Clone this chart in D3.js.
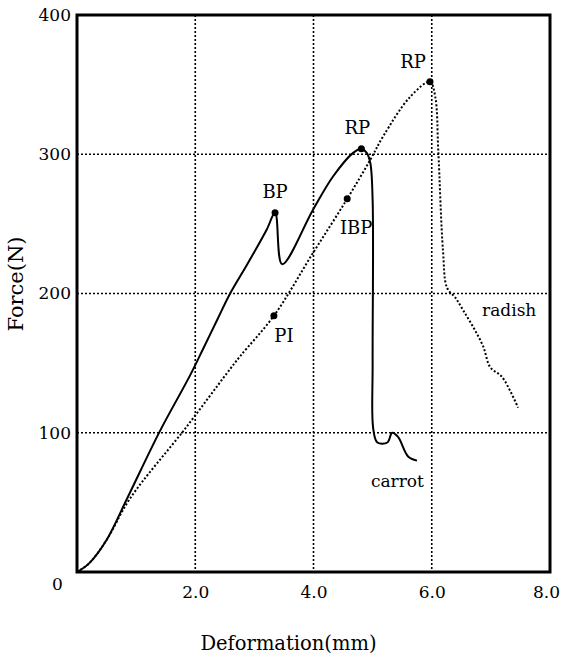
<!DOCTYPE html>
<html>
<head>
<meta charset="utf-8">
<script src="https://cdn.jsdelivr.net/npm/d3@7"></script>
<style>
  body { margin: 0; background: #fff; }
  text { font-family: "DejaVu Serif", "Liberation Serif", serif; fill: #000; }
</style>
</head>
<body>
<div id="chart"></div>
<script>
// carrot curve (solid), deformation mm / force N
var carrotX = [0, 0.2, 0.5, 0.85, 1.40, 1.91, 2.13, 2.37, 2.59, 2.88, 3.21, 3.35, 3.47, 3.99, 4.33, 4.67, 4.81, 4.9, 4.96, 5.0, 5.0, 5.01, 5.08, 5.25, 5.33, 5.43, 5.6, 5.75];
var carrotY = [0, 6, 23, 53, 101, 141, 160, 181, 200, 221, 246, 258, 221, 260, 284, 301, 304, 301, 294, 267, 150, 103, 93, 93, 100, 97, 83, 80];

// radish curve (dotted)
var radishX = [0, 0.2, 0.5, 0.9, 1.83, 2.54, 2.76, 3.33, 3.99, 4.57, 4.96, 5.18, 5.63, 5.97, 6.06, 6.11, 6.19, 6.26, 6.4, 6.53, 6.7, 6.87, 6.99, 7.19, 7.46];
var radishY = [0, 6, 23, 53, 103, 143, 155, 184, 229, 268, 296, 313, 341, 352, 341, 303, 231, 204, 197, 188, 176, 162, 147, 140, 118];

// marked points
var pointNames = ["BP", "RP", "PI", "IBP", "RP"];
var pointX = [3.35, 4.81, 3.33, 4.57, 5.97];
var pointY = [258, 304, 184, 268, 352];

var xTicks = [0, 2, 4, 6, 8];
var xTickLabels = ["0", "2.0", "4.0", "6.0", "8.0"];
var yTicks = [0, 100, 200, 300, 400];

var margin = {top: 15, right: 11, bottom: 91, left: 77},
    width = 561 - margin.left - margin.right,
    height = 663 - margin.top - margin.bottom;

var svg = d3.select("#chart")
    .append("svg")
    .attr("width", 561)
    .attr("height", 663)
    .append("g")
    .attr("transform", "translate(" + margin.left + "," + margin.top + ")");

var x = d3.scaleLinear().domain([0, 8]).range([0, width]);
var y = d3.scaleLinear().domain([0, 400]).range([height, 0]);

// grid
svg.append("g")
    .attr("class", "grid")
    .selectAll("line")
    .data(xTicks.slice(1, -1))
    .enter().append("line")
    .attr("x1", d => x(d)).attr("x2", d => x(d))
    .attr("y1", 0).attr("y2", height)
    .style("stroke", "#000").style("stroke-width", 1.6).style("stroke-dasharray", "2,2");

svg.append("g")
    .attr("class", "grid")
    .selectAll("line")
    .data(yTicks.slice(1, -1))
    .enter().append("line")
    .attr("x1", 0).attr("x2", width)
    .attr("y1", d => y(d)).attr("y2", d => y(d))
    .style("stroke", "#000").style("stroke-width", 1.6).style("stroke-dasharray", "2,2");

// frame
svg.append("rect")
    .attr("width", width)
    .attr("height", height)
    .style("fill", "none")
    .style("stroke", "#000")
    .style("stroke-width", 3);

// tick labels
var xAxis = svg.append("g")
    .attr("transform", "translate(0," + height + ")")
    .call(d3.axisBottom(x).tickValues(xTicks).tickSize(0).tickPadding(14)
        .tickFormat((d, i) => xTickLabels[i]));
xAxis.select(".domain").remove();
xAxis.selectAll("text").style("font-size", "17px").attr("font-family", null);
xAxis.selectAll(".tick").filter(d => d === 0).select("text").attr("dx", "-20").attr("y", 6);
xAxis.selectAll(".tick").filter(d => d === 8).select("text").attr("dx", "-4");

var yAxis = svg.append("g")
    .call(d3.axisLeft(y).tickValues(yTicks.slice(1)).tickSize(0).tickPadding(6));
yAxis.select(".domain").remove();
yAxis.selectAll("text").style("font-size", "17px").attr("font-family", null);

// axis titles
svg.append("text")
    .attr("x", width / 2 - 25)
    .attr("y", height + 78)
    .style("text-anchor", "middle")
    .style("font-size", "19.5px")
    .text("Deformation(mm)");

svg.append("text")
    .attr("transform", "rotate(-90)")
    .attr("x", -(284 - margin.top))
    .attr("y", -margin.left + 23)
    .style("text-anchor", "middle")
    .style("font-size", "21px")
    .text("Force(N)");

var line = d3.line()
    .x(d => x(d[0]))
    .y(d => y(d[1]))
    .curve(d3.curveCatmullRom.alpha(0.5));

svg.append("path")
    .datum(carrotX.map((v, i) => [v, carrotY[i]]))
    .attr("d", line)
    .style("fill", "none")
    .style("stroke", "#000")
    .style("stroke-width", 2);

svg.append("path")
    .datum(radishX.map((v, i) => [v, radishY[i]]))
    .attr("d", line)
    .style("fill", "none")
    .style("stroke", "#000")
    .style("stroke-width", 2)
    .style("stroke-dasharray", "2,2");

svg.selectAll(".pt")
    .data(pointX)
    .enter().append("circle")
    .attr("class", "pt")
    .attr("cx", d => x(d))
    .attr("cy", (d, i) => y(pointY[i]))
    .attr("r", 3.5)
    .style("fill", "#000");

// labels next to the marked points
var labelDx = [0, -4, 10, 9, -17];
var labelDy = [-15, -15, 26, 35, -14];
svg.selectAll(".plabel")
    .data(pointNames)
    .enter().append("text")
    .attr("class", "plabel")
    .attr("x", (d, i) => x(pointX[i]) + labelDx[i])
    .attr("y", (d, i) => y(pointY[i]) + labelDy[i])
    .style("text-anchor", "middle")
    .style("font-size", "18px")
    .text(d => d);

svg.append("text")
    .attr("x", x(5.42))
    .attr("y", y(61))
    .style("text-anchor", "middle")
    .style("font-size", "17px")
    .text("carrot");

svg.append("text")
    .attr("x", x(7.31))
    .attr("y", y(184))
    .style("text-anchor", "middle")
    .style("font-size", "17px")
    .text("radish");
</script>
</body>
</html>
